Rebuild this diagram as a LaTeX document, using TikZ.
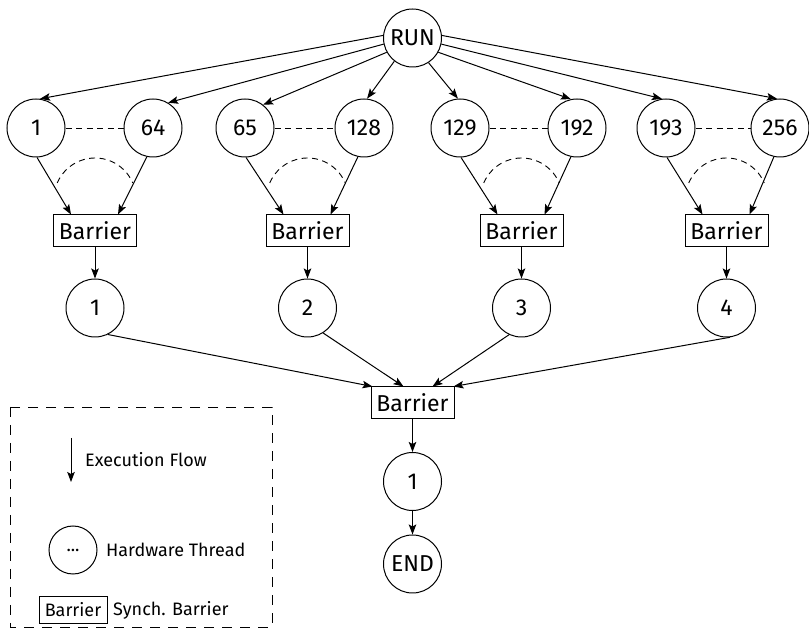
\documentclass[tikz,border=0pt]{standalone}
\usepackage{fontspec}
\setmainfont{Fira Sans}
\usetikzlibrary{arrows.meta}
\tikzset{
  flow/.style={line width=1pt,-{Stealth[length=10pt,width=7.5pt,inset=2pt]}},
  link/.style={line width=0.9pt,dash pattern=on 6pt off 4.5pt},
  thread/.style={draw,line width=1pt,circle,minimum size=58pt,inner sep=0pt,
    font=\fontsize{23}{27}\selectfont},
  barrierbox/.style={draw,line width=1pt,rectangle,minimum width=83pt,minimum height=32pt,
    inner sep=0pt,font=\fontsize{23}{27}\selectfont},
  legtext/.style={font=\fontsize{18}{22}\selectfont,anchor=west,inner sep=0pt},
}
\begin{document}
\begin{tikzpicture}[x=1pt,y=1pt]
\useasboundingbox (0,0) rectangle (809,632);

% start node
\node[thread] (run) at (412.5,594) {RUN};

% first level threads
\node[thread] (t1)   at (36,504)  {1};
\node[thread] (t64)  at (153,504) {64};
\node[thread] (t65)  at (245,504) {65};
\node[thread] (t128) at (364,504) {128};
\node[thread] (t129) at (460,504) {129};
\node[thread] (t192) at (577,504) {192};
\node[thread] (t193) at (666,504) {193};
\node[thread] (t256) at (780,504) {256};

% group barriers
\node[barrierbox] (b1) at (95,401)    {Barrier};
\node[barrierbox] (b2) at (307.5,401) {Barrier};
\node[barrierbox] (b3) at (521.5,401) {Barrier};
\node[barrierbox] (b4) at (726.5,401) {Barrier};

% second level threads
\node[thread] (s1) at (95,324)    {1};
\node[thread] (s2) at (307.5,324) {2};
\node[thread] (s3) at (521.5,324) {3};
\node[thread] (s4) at (726.5,324) {4};

% final barrier and tail
\node[barrierbox] (bf) at (412.5,229) {Barrier};
\node[thread] (f1)  at (412.5,150.5) {1};
\node[thread] (end) at (412.5,68) {END};

% fan-out from RUN
\draw[flow] (run.175) -- (t1.82);
\draw[flow] (run.192) -- (t64.59);
\draw[flow] (run.209) -- (t65.52);
\draw[flow] (run.232) -- (t128.84);
\draw[flow] (run.303) -- (t129.94);
\draw[flow] (run.331) -- (t192.102);
\draw[flow] (run.348) -- (t193.98);
\draw[flow] (run.5)   -- (t256.96);

% thread ranges and joins into group barriers
\foreach \a/\b/\g in {t1/t64/b1, t65/t128/b2, t129/t192/b3, t193/t256/b4}{
  \draw[link] (\a.east) -- (\b.west);
  \draw[flow] (\a.-88) -- ([xshift=-24pt]\g.north);
  \draw[flow] (\b.-102) -- ([xshift=23pt]\g.north);
  \draw[link] ([shift={(157:41)}]\g.north |- 0,433) arc[start angle=157,end angle=23,radius=41];
}

% group barriers to second level
\foreach \g/\s in {b1/s1, b2/s2, b3/s3, b4/s4}{
  \draw[flow] (\g.south) -- (\s.north);
}

% join into final barrier
\draw[flow] (s1.-64)  -- ([xshift=-40pt]bf.north);
\draw[flow] (s2.-58)  -- ([xshift=-9pt]bf.north);
\draw[flow] (s3.-115) -- ([xshift=20pt]bf.north);
\draw[flow] (s4.-83)  -- ([xshift=41pt]bf.north);

\draw[flow] (bf.south) -- (f1.north);
\draw[flow] (f1.south) -- (end.north);

% legend
\draw[line width=0.9pt,dash pattern=on 10pt off 8pt] (10,225) rectangle (272,5);
\coordinate (la) at (71,194);
\coordinate (lb) at (71,150);
\draw[flow] (la) -- (lb);
\node[legtext] (lflow) at (85,172) {Execution Flow};
\node[draw,line width=1pt,circle,minimum size=48pt,inner sep=0pt,
  font=\fontsize{18}{22}\selectfont] (lthr) at (73,82) {...};
\node[legtext] (lthrt) at (106,82) {Hardware Thread};
\node[draw,line width=1pt,rectangle,minimum width=68pt,minimum height=27pt,inner sep=0pt,
  font=\fontsize{18}{22}\selectfont] (lbar) at (73,22) {Barrier};
\node[legtext] (lbart) at (113,22) {Synch. Barrier};
\end{tikzpicture}
\end{document}
